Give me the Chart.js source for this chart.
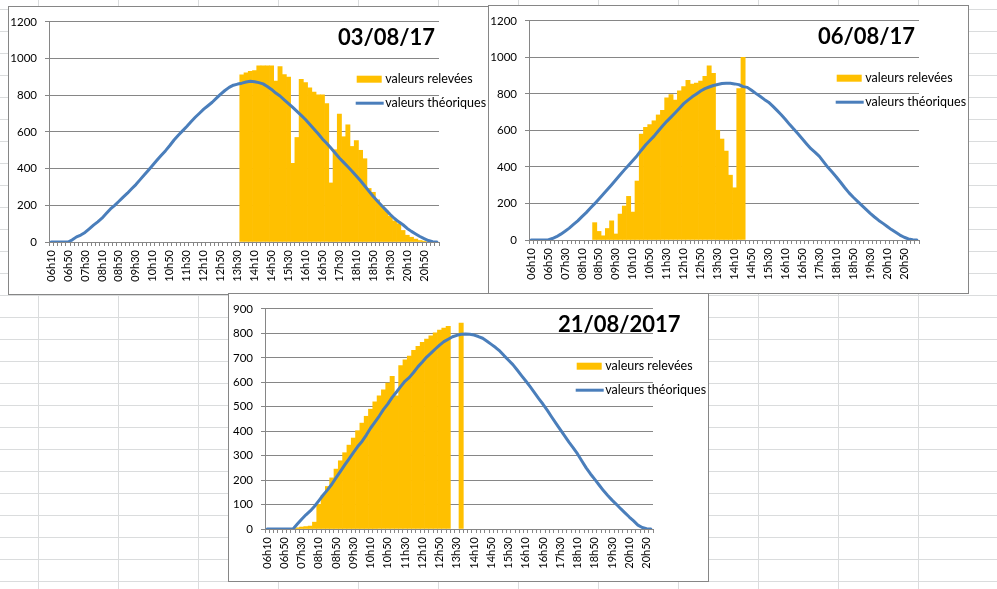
<!DOCTYPE html>
<html>
<head>
<meta charset="utf-8">
<script src="https://cdn.jsdelivr.net/npm/chart.js@4.4.1/dist/chart.umd.min.js"></script>
<style>
  html, body { margin: 0; padding: 0; }
  body {
    width: 997px; height: 589px; overflow: hidden; position: relative;
    background-color: #fff;
    background-image: linear-gradient(to right, #DADCDD 1px, transparent 1px),
                      linear-gradient(to bottom, #DADCDD 1px, transparent 1px);
    background-size: 80px 22px;
    background-position: 38px 9px;
  }
  .box { position: absolute; box-sizing: border-box; border: 1px solid #868686; background: #fff; }
  .box canvas { position: absolute; left: 0; top: 0; }
</style>
</head>
<body>
<div class="box" id="b1" style="left:8px; top:6px; width:481px; height:289px;"><canvas id="c1" width="479" height="287"></canvas></div>
<div class="box" id="b2" style="left:488px; top:5px; width:481px; height:289px;"><canvas id="c2" width="479" height="287"></canvas></div>
<div class="box" id="b3" style="left:228px; top:293px; width:481px; height:289px;"><canvas id="c3" width="479" height="287"></canvas></div>
<script>
const _ = null;
const CATEGORIES = ["06h10","06h20","06h30","06h40","06h50",
 "07h00","07h10","07h20","07h30","07h40","07h50",
 "08h00","08h10","08h20","08h30","08h40","08h50",
 "09h00","09h10","09h20","09h30","09h40","09h50",
 "10h00","10h10","10h20","10h30","10h40","10h50",
 "11h00","11h10","11h20","11h30","11h40","11h50",
 "12h00","12h10","12h20","12h30","12h40","12h50",
 "13h00","13h10","13h20","13h30","13h40","13h50",
 "14h00","14h10","14h20","14h30","14h40","14h50",
 "15h00","15h10","15h20","15h30","15h40","15h50",
 "16h00","16h10","16h20","16h30","16h40","16h50",
 "17h00","17h10","17h20","17h30","17h40","17h50",
 "18h00","18h10","18h20","18h30","18h40","18h50",
 "19h00","19h10","19h20","19h30","19h40","19h50",
 "20h00","20h10","20h20","20h30","20h40","20h50",
 "21h00","21h10","21h20"];

const SERIES_BAR = "valeurs relevées";
const SERIES_LINE = "valeurs théoriques";
const TITLES = ["03/08/17", "06/08/17", "21/08/2017"];

// 03/08/17
const releve1 = [_,_,_,_,_,_,_,_,_,_, _,_,_,_,_,_,_,_,_,_, _,_,_,_,_,_,_,_,_,_, _,_,_,_,_,_,_,_,_,_, _,_,_,_,_,
 912,922,930,935,960,960,960,960,878,956,
 913,899,429,570,887,869,841,817,802,802,
 755,322,503,697,574,639,521,553,500,454,
 292,271,230,200,170,140,115,100,63,37,
 26,16,8,5,_,_,_];
const theorique1 = [0,0,0,0,0,12,28,38,52,72,
 92,110,130,155,180,200,222,245,266,290,
 313,340,366,393,420,447,473,498,526,556,
 582,606,630,656,680,702,724,743,762,784,
 806,826,843,855,861,866,872,876,874,869,
 862,848,832,812,796,775,755,734,712,690,
 668,642,616,590,562,538,512,485,458,434,
 410,386,360,334,305,276,248,222,198,174,
 150,128,110,94,74,58,44,30,18,8,
 2,0];

// 06/08/17
const releve2 = [_,_,_,_,_,_,_,_,_,_, _,_,_,_,_,
 95,47,23,63,105,33,142,186,239,153,
 323,580,617,632,653,685,710,778,796,766,
 817,840,875,854,859,870,896,954,913,601,
 553,487,355,286,829,1000,
 _,_,_,_,_,_,_,_,_,_, _,_,_,_,_,_,_,_,_,_, _,_,_,_,_,_,_,_,_,_, _,_,_,_,_,_,_,_,_,_, _];
const theorique2 = [0,0,0,0,0,8,18,32,48,65,
 85,105,128,150,175,199,225,250,276,303,
 330,357,384,410,436,462,492,520,545,569,
 597,624,650,673,697,722,747,766,784,800,
 816,829,838,846,852,857,859,858,855,851,
 840,836,820,803,787,770,755,733,710,686,
 660,632,606,580,553,526,500,480,458,428,
 398,372,345,316,286,258,234,212,190,168,
 146,126,107,91,74,57,42,27,15,6,
 1,0];

// 21/08/2017
const releve3 = [_,_,_,_,_,_,_,
 5,8,10,12,28,101,138,174,209,245,
 279,312,343,372,402,433,461,490,520,545,
 569,597,624,545,668,692,707,731,747,763,
 777,790,802,813,822,829,_,_,842,
 _,_,_,_,_,_,_,_,_,_, _,_,_,_,_,_,_,_,_,_, _,_,_,_,_,_,_,_,_,_, _,_,_,_,_,_,_,_,_,_, _,_,_,_];
const theorique3 = [0,0,0,0,0,0,0,20,40,58,
 74,93,116,139,160,183,210,236,262,287,
 312,337,358,384,413,437,462,489,512,538,
 560,583,605,620,641,664,683,703,719,736,
 752,766,776,786,792,796,797,796,793,787,
 780,768,755,742,727,708,690,672,650,627,
 605,582,558,533,510,485,458,432,406,381,
 355,332,307,278,250,225,203,180,157,137,
 118,101,83,66,49,33,16,6,1,0];

const Y_MAX = [1200, 1200, 900];
const Y_STEP = [200, 200, 100];

const GOLD = '#FFC000';
const BLUE = '#4A7EBB';
const GRID = '#868686';
const FONT = 'Lato, "Liberation Sans", sans-serif';

Chart.defaults.font.family = FONT;
Chart.defaults.color = '#000';

const decor = {
  id: 'decor',
  afterDraw(chart, args, o) {
    const c = chart.ctx;
    const ds = chart.data.datasets;
    c.save();
    c.fillStyle = '#000';
    c.textAlign = 'left';
    c.textBaseline = 'alphabetic';
    c.font = 'bold 22px ' + FONT;
    c.fillText(o.title, o.tx, o.ty);
    // legend
    c.fillStyle = GOLD;
    c.fillRect(o.lx, o.ly, 25, 7);
    c.strokeStyle = BLUE;
    c.lineWidth = 3;
    c.lineCap = 'butt';
    c.beginPath();
    c.moveTo(o.lx - 1, o.ly + 27.5);
    c.lineTo(o.lx + 27, o.ly + 27.5);
    c.stroke();
    c.fillStyle = '#000';
    c.font = '12.5px ' + FONT;
    c.fillText(ds[1].label, o.lx + 28.5, o.ly + 7.5);
    c.fillText(ds[0].label, o.lx + 28.5, o.ly + 31);
    c.restore();
  }
};

function makeChart(id, n, bars, line, idx, geo) {
  const ctx = document.getElementById(id).getContext('2d');
  return new Chart(ctx, {
    type: 'bar',
    data: {
      labels: CATEGORIES.slice(0, n),
      datasets: [
        { type: 'line', label: SERIES_LINE, data: line.slice(0, n), borderColor: BLUE, borderWidth: 3,
          pointRadius: 0, tension: 0, fill: false, order: 0, borderJoinStyle: 'round', borderCapStyle: 'round' },
        { type: 'bar', label: SERIES_BAR, data: bars.slice(0, n), backgroundColor: GOLD, borderWidth: 0,
          barPercentage: 1, categoryPercentage: 1, order: 1 }
      ]
    },
    options: {
      responsive: false, animation: false, devicePixelRatio: 1,
      layout: { padding: { top: geo.top, right: geo.right, bottom: 0, left: 0 } },
      plugins: {
        legend: { display: false }, tooltip: { enabled: false }, title: { display: false },
        decor: { title: TITLES[idx], tx: 329, ty: 37.5, lx: 347.7, ly: 68.7 }
      },
      scales: {
        x: {
          offset: true,
          grid: { offset: true, drawOnChartArea: false, drawTicks: true, tickLength: 4, color: GRID },
          border: { color: GRID },
          ticks: {
            autoSkip: false, minRotation: 90, maxRotation: 90, padding: 4,
            font: { size: 11 }, color: '#000',
            callback: function (v, i) { return i % 4 === 0 ? this.getLabelForValue(v) : ''; }
          },
          afterFit: s => { s.height = geo.xh; }
        },
        y: {
          min: 0, max: Y_MAX[idx],
          ticks: { stepSize: Y_STEP[idx], padding: 8, font: { size: 11.5 }, color: '#000',
                   callback: v => String(v) },
          grid: { color: GRID, tickLength: 4 },
          border: { color: GRID },
          afterFit: s => { s.width = geo.yw; }
        }
      }
    },
    plugins: [decor]
  });
}

makeChart('c1', 92, releve1, theorique1, 0, { top: 8, right: 49, xh: 52, yw: 40 });
makeChart('c2', 92, releve2, theorique2, 1, { top: 6.5, right: 49, xh: 53, yw: 40 });
makeChart('c3', 90, releve3, theorique3, 2, { top: 7.5, right: 55, xh: 52, yw: 36 });
</script>
</body>
</html>
